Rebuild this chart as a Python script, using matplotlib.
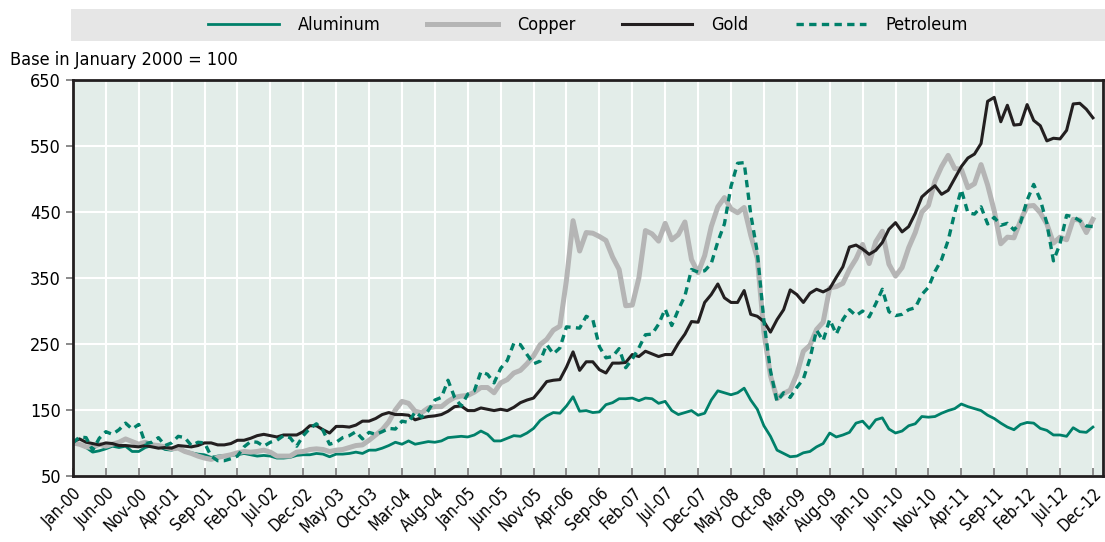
import matplotlib
matplotlib.use("Agg")
import matplotlib.pyplot as plt
from matplotlib.patches import Rectangle
import numpy as np

# monthly index values, Jan-2000 = 100 (Jan-00 .. Dec-12)
aluminum = [100, 98, 93, 86, 88, 91, 95, 93, 95, 87, 87, 93,
            96, 95, 90, 89, 92, 88, 85, 83, 82, 78, 80, 81,
            81, 82, 84, 82, 80, 81, 80, 77, 77, 78, 81, 82,
            82, 84, 83, 79, 83, 83, 84, 86, 84, 89, 89, 92,
            96, 101, 98, 103, 98, 100, 102, 101, 103, 108, 109, 110,
            109, 112, 118, 113, 103, 103, 107, 111, 110, 115, 122, 134,
            141, 146, 145, 156, 170, 148, 149, 146, 147, 158, 161, 167,
            167, 168, 164, 168, 167, 160, 163, 149, 143, 146, 149, 142,
            145, 165, 179, 176, 173, 176, 183, 165, 151, 126, 110, 89,
            84, 79, 80, 85, 87, 94, 99, 115, 109, 112, 116, 130,
            133, 122, 135, 138, 121, 115, 118, 126, 129, 140, 139, 140,
            145, 149, 152, 159, 155, 152, 149, 142, 137, 130, 124, 120,
            128, 131, 130, 122, 119, 112, 112, 110, 123, 117, 116, 124]

copper = [100, 98, 94, 93, 98, 95, 98, 101, 106, 102, 98, 101,
          97, 96, 94, 91, 92, 87, 84, 80, 77, 75, 78, 80,
          82, 85, 87, 86, 87, 89, 86, 80, 80, 80, 86, 87,
          90, 91, 90, 87, 89, 90, 93, 96, 97, 104, 112, 120,
          132, 150, 163, 160, 148, 146, 153, 155, 155, 163, 169, 171,
          172, 177, 184, 184, 176, 191, 196, 206, 210, 220, 232, 249,
          257, 271, 277, 347, 437, 391, 419, 418, 413, 407, 382, 363,
          308, 309, 350, 422, 417, 406, 433, 408, 416, 435, 378, 358,
          384, 428, 458, 472, 455, 449, 457, 415, 380, 268, 202, 167,
          175, 180, 204, 239, 248, 272, 283, 335, 337, 342, 363, 379,
          401, 372, 405, 421, 371, 353, 366, 396, 419, 450, 460, 497,
          519, 536, 516, 515, 487, 493, 522, 491, 452, 402, 412, 411,
          437, 459, 460, 449, 432, 403, 412, 408, 439, 438, 419, 439]

gold = [102, 106, 101, 99, 97, 100, 99, 96, 96, 95, 94, 96,
        94, 92, 93, 92, 96, 95, 94, 96, 100, 100, 97, 97,
        99, 104, 104, 107, 111, 113, 111, 109, 112, 112, 112, 117,
        126, 126, 120, 115, 125, 125, 124, 127, 133, 133, 137, 143,
        146, 143, 143, 142, 135, 138, 140, 141, 143, 148, 155, 156,
        149, 149, 153, 151, 149, 151, 149, 154, 161, 165, 168, 180,
        193, 195, 196, 215, 238, 210, 223, 223, 211, 206, 221, 221,
        222, 234, 231, 239, 235, 231, 234, 234, 251, 265, 284, 283,
        313, 325, 341, 320, 313, 313, 331, 295, 292, 284, 268, 287,
        302, 332, 325, 313, 327, 333, 329, 334, 351, 367, 397, 400,
        394, 386, 392, 404, 424, 434, 420, 428, 448, 473, 482, 490,
        477, 483, 501, 519, 532, 538, 554, 618, 624, 587, 612, 582,
        583, 613, 589, 581, 558, 562, 561, 574, 614, 615, 606, 593]

petroleum = [100, 109, 108, 89, 107, 117, 113, 120, 130, 121, 128, 99,
             101, 108, 96, 100, 110, 108, 96, 101, 100, 80, 73, 73,
             76, 80, 94, 102, 101, 95, 101, 104, 111, 108, 95, 111,
             122, 129, 119, 98, 101, 108, 111, 117, 106, 116, 113, 117,
             122, 121, 133, 131, 147, 139, 149, 165, 169, 195, 169, 156,
             174, 179, 208, 204, 191, 213, 225, 251, 249, 234, 220, 224,
             249, 235, 244, 276, 275, 274, 292, 287, 246, 229, 231, 243,
             214, 227, 244, 264, 265, 280, 303, 278, 302, 323, 363, 359,
             361, 372, 405, 432, 489, 524, 525, 447, 389, 285, 209, 163,
             176, 169, 184, 197, 228, 271, 255, 287, 265, 287, 302, 293,
             300, 291, 311, 333, 299, 293, 295, 302, 305, 325, 336, 360,
             378, 407, 449, 484, 449, 447, 458, 432, 442, 430, 433, 423,
             434, 468, 492, 469, 433, 376, 402, 445, 443, 437, 429, 428]

tick_labels = ["Jan-00", "Jun-00", "Nov-00", "Apr-01", "Sep-01", "Feb-02", "Jul-02",
               "Dec-02", "May-03", "Oct-03", "Mar-04", "Aug-04", "Jan-05", "Jun-05",
               "Nov-05", "Apr-06", "Sep-06", "Feb-07", "Jul-07", "Dec-07", "May-08",
               "Oct-08", "Mar-09", "Aug-09", "Jan-10", "Jun-10", "Nov-10", "Apr-11",
               "Sep-11", "Feb-12", "Jul-12", "Dec-12"]

plt.rcParams["font.family"] = ["DejaVu Sans"]
plt.rcParams["font.stretch"] = "condensed"

teal = "#00806a"
months = np.arange(len(gold))

fig = plt.figure(figsize=(11.05, 5.42), dpi=100)
ax = fig.add_axes([0.066, 0.122, 0.932, 0.730])
ax.set_facecolor("#e3ede9")

ax.plot(months, aluminum, color=teal, lw=2.0, label="Aluminum")
ax.plot(months, copper, color="#b5b5b5", lw=3.6, label="Copper")
ax.plot(months, gold, color="#231f20", lw=2.2, label="Gold")
ax.plot(months, petroleum, color=teal, lw=2.4, ls=(0, (2.2, 1.6)), label="Petroleum")

ax.set_xlim(0, 156.5)
ax.set_ylim(50, 650)
ax.set_yticks(range(50, 651, 100))
ax.set_xticks(np.arange(0, 156, 5))
ax.set_xticklabels(tick_labels, rotation=45, ha="right", rotation_mode="anchor")

ax.grid(True, color="white", lw=1.5)
ax.set_axisbelow(True)
for s in ax.spines.values():
    s.set_color("#231f20")
    s.set_linewidth(2)

ax.tick_params(axis="x", direction="in", length=6, width=1.2, color="#777777",
               labelsize=12, pad=6)
ax.tick_params(axis="y", direction="out", length=5, width=1.2, color="#777777",
               labelsize=13)

fig.text(0.009, 0.889, "Base in January 2000 = 100", fontsize=13, va="center")

# legend strip
fig.patches.append(Rectangle((0.064, 0.925), 0.936, 0.058, transform=fig.transFigure,
                             facecolor="#e6e6e6", edgecolor="none", zorder=0))
fig.legend(loc="center", bbox_to_anchor=(0.532, 0.954), ncol=4, frameon=False,
           fontsize=13, handlelength=3.9, handletextpad=1.05, columnspacing=2.6)

fig.savefig("out.png", dpi=100)
